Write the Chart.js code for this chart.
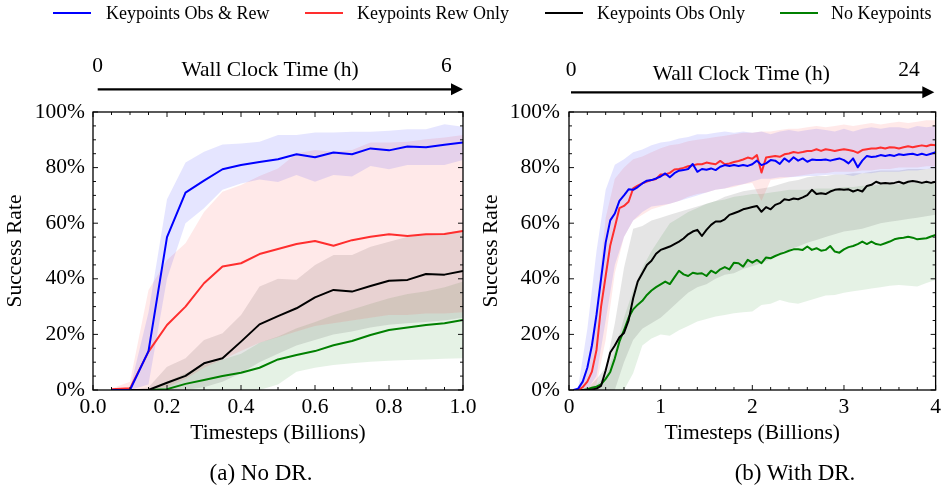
<!DOCTYPE html>
<html>
<head>
<meta charset="utf-8">
<script src="https://cdn.jsdelivr.net/npm/chart.js@4.4.1/dist/chart.umd.min.js"></script>
<style>
html,body{margin:0;padding:0;background:#fff;}
#wrap{position:relative;width:945px;height:487px;overflow:hidden;font-family:'Liberation Serif','Times New Roman',serif;color:#000;background:#fff;}
canvas{position:absolute;left:0;top:0;}
.lline{position:absolute;top:12.3px;width:38px;height:2px;}
.ltext{position:absolute;top:4px;font-size:18px;line-height:18px;white-space:nowrap;}
.cap{position:absolute;top:461px;font-size:23px;line-height:23px;white-space:nowrap;transform:translateX(-50%);}
</style>
</head>
<body>
<div id="wrap">
  <canvas id="cA" width="945" height="487"></canvas>
  <canvas id="cB" width="945" height="487"></canvas>
  <div class="lline" style="left:53px;background:#0000ff"></div><div class="ltext" style="left:106px">Keypoints Obs &amp; Rew</div>
  <div class="lline" style="left:305px;background:#ff2e2e"></div><div class="ltext" style="left:357px">Keypoints Rew Only</div>
  <div class="lline" style="left:545px;background:#000000"></div><div class="ltext" style="left:597px">Keypoints Obs Only</div>
  <div class="lline" style="left:780px;background:#008000"></div><div class="ltext" style="left:831px">No Keypoints</div>
  <div class="cap" style="left:261px">(a) No DR.</div>
  <div class="cap" style="left:795px">(b) With DR.</div>
</div>
<script>
// ---------- Panel (a): No DR ----------
const xA = [0.05,0.10,0.15,0.20,0.25,0.30,0.35,0.40,0.45,0.50,0.55,0.60,0.65,0.70,0.75,0.80,0.85,0.90,0.95,1.00];
const blueA  = [0,0,14,55,71,75.3,79.4,80.9,82,83,84.8,83.7,85.4,84.8,86.9,86.2,87.6,87.3,88.2,89];
const redA   = [0.3,0.6,13.8,23.4,30,38.4,44.4,45.6,48.9,50.7,52.5,53.6,51.9,53.9,55.1,56,55.4,56,56.1,57.2];
const blackA = [0,0,0,2.6,5.1,9.6,11.4,17.4,23.6,26.6,29.4,33.3,36,35.4,37.4,39.3,39.6,41.7,41.5,42.8];
const greenA = [0,0,0,0.3,2.2,3.6,5,6.2,8,11,12.6,14,16.1,17.6,19.8,21.6,22.5,23.4,24,25.2];
const blueUpA  = [0,0.5,28,68.6,81.8,85.7,88.3,88.7,89.3,91.7,91.7,92.6,92.6,92.9,92.9,93.3,93.8,93.8,95.6,94.7];
const blueLoA  = [0,0,2,40,60,65.4,72,74.3,75.7,74.8,77.3,74.9,77.3,76.8,80.6,79.4,80.9,80.9,80.9,82.7];
const redUpA   = [0.5,3,36,46.8,52.8,64,71.3,73.7,77,79.7,85.1,86.3,85.7,86.3,89,89,89.3,90.2,90.8,91.7];
const redLoA   = [0,0,0,1,4,8,11,14,17,19,21,23,24,25,26,27,27,27.5,27.5,28];
const blackUpA = [0,0,1,8.4,11.4,18,20.4,27,37.2,40,39.7,45,48.6,48.6,51.5,53.3,55.1,55.8,56.4,57.6];
const blackLoA = [0,0,0,0,0,1,3,6,10,13,16,18,20,21,22.5,23.5,24,24.5,25,26];
const greenUpA = [0,0,0.5,3,6,9,11,13,17,19.2,22.2,24.5,27,29,31,33,34.5,35.5,37,39];
const greenLoA = [0,0,0,0,0,0,0,0,0,2,6.6,8,9,9.6,10.2,10.5,10.8,11,11.2,11.4];

// ---------- Panel (b): With DR ----------
const xB = [
 0.05,0.10,0.15,0.20,0.25,0.30,0.35,0.40,0.45,0.50,
 0.55,0.60,0.65,0.70,0.75,0.80,0.85,0.90,0.95,1.00,
 1.05,1.10,1.15,1.20,1.25,1.30,1.35,1.40,1.45,1.50,
 1.55,1.60,1.65,1.70,1.75,1.80,1.85,1.90,1.95,2.00,
 2.05,2.10,2.15,2.20,2.25,2.30,2.35,2.40,2.45,2.50,
 2.55,2.60,2.65,2.70,2.75,2.80,2.85,2.90,2.95,3.00,
 3.05,3.10,3.15,3.20,3.25,3.30,3.35,3.40,3.45,3.50,
 3.55,3.60,3.65,3.70,3.75,3.80,3.85,3.90,3.95,4.00];
const blueB = [
 0,0.5,3,8,16,27,40,53,61,63.5,
 68,70,72.2,72,73,74.3,75.3,75.5,76.1,76.8,
 77.9,76.5,78,78.9,79.1,79.5,81.3,78.5,79.5,79.2,
 79.7,79.1,80.3,80.9,80.6,80.9,80.6,80.9,80.6,81.2,
 82.5,80.9,81.5,82.7,82.5,81.3,83.3,82.1,83.7,82.5,
 83.3,82.1,82.9,82.7,82.7,82.9,82.5,82.9,83.3,82.7,
 81.5,83.3,80.1,82.5,84.2,83.8,84.0,84.5,84.2,84.5,
 84.2,84.8,84.5,84.8,85.0,84.5,85.0,84.5,85.0,85.5];
const redB = [
 0,0,1,3,6.6,14.4,30,41,52,58.5,
 65.4,66.2,67.7,72.5,73.5,74.3,75,75.5,75.9,77.5,
 77.5,78.1,79.3,79.5,79.9,80.5,80.8,81.2,81.2,81.8,
 81.5,81.2,82.4,81.2,81.5,82,82.4,82.9,83.6,83.2,
 84.5,78.2,83.6,83.9,84.2,83.9,84.8,85.1,85.6,85.3,
 85.6,86,86,86.6,86,86.6,86.3,86,86.3,86.6,
 86.3,86,85.3,86.3,86.6,86.9,86.9,87.2,86.9,87.3,
 87.2,86.9,87.3,87.7,87.3,87.7,88,87.7,88.2,88];
const blackB = [
 0,0,0,0,0.2,0.5,1.5,7,13.5,16,
 19,20.5,25,33,39,42,45,46.5,49,50.4,
 51,51.6,52.5,53.4,54.5,56,57,57.6,55.4,57.6,
 59.4,60.6,60.6,61.4,63,63.6,64.2,65,65.4,65.8,
 66.2,64.1,65.8,65,66.6,67.2,68.6,68.3,68.9,68.6,
 69.3,70.1,72,70.5,70.8,70.5,71.4,72,72.2,72,
 72.2,71.4,72,71.4,73.4,73.8,74.9,74.3,74.5,74.3,
 74.5,74.9,74.3,74.9,75.2,74.9,74.5,74.9,74.5,74.9];
const greenB = [
 0,0,0,0.3,0.8,1.2,2,4,6.5,11.4,
 17.4,21.5,26,29,30.7,32.1,34.2,35.8,37,38,
 39,38.1,40.5,42.9,41.6,41,42.2,41.8,42,41,
 42.9,42,43.4,44.2,43.4,45.8,45.6,44.4,46.8,45.8,
 46.8,45.6,47.7,47.4,48.2,48.9,49.4,50.1,50.6,50.6,
 50.4,51.6,50.4,51,50.1,50.4,51.8,49.8,49.4,50.6,
 51.4,51.8,52.5,53.4,52.5,53.4,52.5,52.2,52.8,53.4,
 54.2,54.6,54.8,55.1,54.8,54.2,54.4,54.6,55.2,55.8];
const xBandB = [
 0.1,0.2,0.3,0.4,0.5,0.6,0.7,0.8,0.9,1.0,
 1.1,1.2,1.3,1.4,1.5,1.6,1.7,1.8,1.9,2.0,
 2.1,2.2,2.3,2.4,2.5,2.6,2.7,2.8,2.9,3.0,
 3.1,3.2,3.3,3.4,3.5,3.6,3.7,3.8,3.9,4.0];
const blueUpB = [1,22,50,72,81,83,85.5,86.5,88,89, 89.5,90.5,91,92,92,92.5,93,92.5,93,92.5, 93,92,93,93.5,93,93.5,94,93.5,93,94, 93,94,94.5,94,94.5,94.5,94,95,94.5,95];
const blueLoB = [0,0,5,25,45,55,61,64,66,66.5, 67,68,69,70,71,72,72.5,73.5,74,75, 76,76,76.5,76.5,76.7,77,77,77.3,77.5,77.5, 77,78,78,78.5,78.5,78.5,79,79,79.5,79.7];
const redUpB = [0.5,8,30,62,76,80,83,84,85.5,87, 88,88.5,89.5,90,90.5,91,91.5,92,92.5,92.5, 93,93,93.5,94,94,94.5,95,94.5,95,95.5, 95,95.5,96,95.5,96,96.5,96,96.5,97,97];
const redLoB = [0,0,2,18,42,55,61,63,65,66, 67,68,69.5,70.5,71,72,72.5,73,74,74.5, 68,75.5,76,76.5,77,77.5,78,78,78.5,78.5, 78.5,79,79,79.5,79.5,80,80,80,80.5,80.5];
const blackUpB = [0,0.5,4,8,24,44,58,59,61,62, 63,64,65,66,67,68,69.5,70.5,71.5,72, 72.5,73,74,75,75.5,76.5,77,77,77.5,77.5, 78,78,78.5,79,79,79,79.5,79.5,79.5,80];
const blackLoB = [0,0,0,0,0,10,18,22,24,26, 29,32,35,37,38,40,41.5,42,43.5,44.5, 45.6,47,49,50.5,51.6,53,54,55,56,57, 57.5,58,59,60,60.5,61,61.5,62,62.5,63];
const greenUpB = [0,0.5,2,5,14,26,36,44,50,55, 60,62,64,65.5,67,68,68.5,69.5,70,70.5, 70.5,71,71.5,72,72,72,72.5,72.5,72.5,73, 73,73.5,73.5,74,74,74,74.5,74.5,74.5,74.5];
const greenLoB = [0,0,0,0,0,0,6,16,18.5,20, 19.5,21.5,23,24.6,25.5,26.4,27,27.6,28,28.2, 30.6,31,32.4,31.5,31,32,33,34,34.2,35, 35.5,36,36.5,37,37.5,37.8,37.5,37.2,38.5,39.6];

const seriesNames = ['Keypoints Obs & Rew','Keypoints Rew Only','Keypoints Obs Only','No Keypoints'];
const yTitle = 'Success Rate';
const xTitle = 'Timesteps (Billions)';
const wallTitle = 'Wall Clock Time (h)';
const wallEndsA = ['0','6'];
const wallEndsB = ['0','24'];

const COLORS = ['#0000ff','#ff2e2e','#000000','#008000'];
const BANDS = ['rgba(0,0,255,0.10)','rgba(255,40,40,0.10)','rgba(0,0,0,0.10)','rgba(0,128,0,0.10)'];
const FONT = "'Liberation Serif','Times New Roman',serif";
Chart.defaults.font.family = FONT;
Chart.defaults.color = '#000';

function pts(xs, ys){ return xs.map((x,i)=>({x:x, y:ys[i]})); }
function lineDs(i, xs, ys){
  return {label: seriesNames[i], data: pts(xs,ys), borderColor: COLORS[i], borderWidth: 2,
          pointRadius: 0, fill: false, tension: 0, order: 0, borderJoinStyle: 'round'};
}
function bandDs(i, xs, lo, hi){
  return [
    {label: 'lo'+i, data: pts(xs,lo), borderColor:'rgba(0,0,0,0)', borderWidth: 0, pointRadius: 0, fill: false, order: 1},
    {label: 'hi'+i, data: pts(xs,hi), borderColor:'rgba(0,0,0,0)', borderWidth: 0, pointRadius: 0, fill: '-1', backgroundColor: BANDS[i], order: 1}
  ];
}

const framePlugin = {
  id: 'frame',
  afterDatasetsDraw(chart, args, o){
    const {ctx, chartArea: a} = chart;
    const x = chart.scales.x, y = chart.scales.y;
    ctx.save();
    ctx.strokeStyle = '#111';
    ctx.lineWidth = 1;
    ctx.beginPath();
    const nx = Math.round((x.max - x.min)/o.minorX);
    for (let i=0;i<=nx;i++){
      const v = x.min + i*o.minorX;
      const r = v/o.majorX, major = Math.abs(r-Math.round(r))<1e-6;
      const len = major?5:3, px = x.getPixelForValue(v);
      ctx.moveTo(px, a.bottom); ctx.lineTo(px, a.bottom-len);
      ctx.moveTo(px, a.top); ctx.lineTo(px, a.top+len);
    }
    const ny = Math.round((y.max - y.min)/o.minorY);
    for (let i=0;i<=ny;i++){
      const v = y.min + i*o.minorY;
      const r = v/o.majorY, major = Math.abs(r-Math.round(r))<1e-6;
      const len = major?5:3, py = y.getPixelForValue(v);
      ctx.moveTo(a.left, py); ctx.lineTo(a.left+len, py);
      ctx.moveTo(a.right, py); ctx.lineTo(a.right-len, py);
    }
    ctx.stroke();
    ctx.lineWidth = 1.3;
    ctx.strokeStyle = '#000';
    ctx.strokeRect(a.left, a.top, a.right-a.left, a.bottom-a.top);
    ctx.restore();
  }
};

const wallPlugin = {
  id: 'wall',
  afterDraw(chart, args, o){
    const {ctx, chartArea: a} = chart;
    const x0 = a.left + o.startInset, x1 = a.right - o.tipInset;
    const ya = a.top - o.arrowGap;
    ctx.save();
    ctx.strokeStyle = '#000'; ctx.fillStyle = '#000';
    ctx.lineWidth = 2.2;
    ctx.beginPath(); ctx.moveTo(x0, ya); ctx.lineTo(x1-8, ya); ctx.stroke();
    ctx.beginPath(); ctx.moveTo(x1, ya); ctx.lineTo(x1-12, ya-6); ctx.lineTo(x1-12, ya+6); ctx.closePath(); ctx.fill();
    ctx.font = '21.5px ' + FONT;
    ctx.textBaseline = 'alphabetic';
    ctx.textAlign = 'center';
    ctx.fillText(o.ends[0], x0, a.top - o.numGap);
    ctx.textAlign = 'right';
    ctx.fillText(o.ends[1], a.right - o.endInset, a.top - o.numGap);
    ctx.textAlign = 'center';
    ctx.fillText(wallTitle, (a.left+a.right)/2 + o.titleShift, a.top - o.titleGap);
    ctx.restore();
  }
};

function makeChart(id, cfg){
  const datasets = [];
  for (let i=0;i<4;i++) datasets.push(lineDs(i, cfg.xs, cfg.lines[i]));
  for (let i=0;i<4;i++) datasets.push(...bandDs(i, cfg.bx, cfg.bands[i][0], cfg.bands[i][1]));
  return new Chart(document.getElementById(id), {
    type: 'line',
    data: {datasets},
    plugins: [framePlugin, wallPlugin],
    options: {
      responsive: false, animation: false, devicePixelRatio: 1,
      layout: {padding: cfg.padding},
      plugins: {
        legend: {display: false}, tooltip: {enabled: false},
        frame: cfg.frame, wall: cfg.wall
      },
      scales: {
        x: {
          type: 'linear', min: cfg.xmin, max: cfg.xmax,
          grid: {display: false, drawTicks: false}, border: {display: false},
          ticks: {stepSize: cfg.xstep, padding: 4, font: {size: 21.5}, color: '#000',
                  maxRotation: 0, callback: cfg.xfmt},
          title: {display: true, text: xTitle, font: {size: 21.5}, color: '#000', padding: {top: 0, bottom: 41}},
          afterFit(s){ s.height = 97; }
        },
        y: {
          type: 'linear', min: 0, max: 100,
          grid: {display: false, drawTicks: false}, border: {display: false},
          ticks: {stepSize: 20, padding: cfg.ypad, font: {size: 21.5}, color: '#000', callback: v => v + '%'},
          title: {display: true, text: yTitle, font: {size: 21.5}, color: '#000', padding: {top: cfg.ytitlePad, bottom: 0}},
          afterFit(s){ s.width = cfg.ywidth; }
        }
      }
    }
  });
}

makeChart('cA', {
  xs: xA, lines: [blueA, redA, blackA, greenA], bx: xA,
  bands: [[blueLoA, blueUpA],[redLoA, redUpA],[blackLoA, blackUpA],[greenLoA, greenUpA]],
  padding: {left: 0, top: 112, right: 482, bottom: 0},
  xmin: 0, xmax: 1, xstep: 0.2, xfmt: v => Number(v).toFixed(1),
  ypad: 8, ywidth: 93, ytitlePad: 2.4,
  frame: {minorX: 0.05, majorX: 0.2, minorY: 5, majorY: 20},
  wall: {ends: wallEndsA, startInset: 4.7, tipInset: 0, arrowGap: 22.7, numGap: 40, titleGap: 36, titleShift: -8, endInset: 11.3}
});

makeChart('cB', {
  xs: xB, lines: [blueB, redB, blackB, greenB], bx: xBandB,
  bands: [[blueLoB, blueUpB],[redLoB, redUpB],[blackLoB, blackUpB],[greenLoB, greenUpB]],
  padding: {left: 470, top: 112, right: 7, bottom: 0},
  xmin: 0, xmax: 4, xstep: 1, xfmt: v => String(v),
  ypad: 9, ywidth: 99, ytitlePad: 8.1,
  frame: {minorX: 0.2, majorX: 1, minorY: 5, majorY: 20},
  wall: {ends: wallEndsB, startInset: 2, tipInset: 1.3, arrowGap: 19.7, numGap: 36, titleGap: 32, titleShift: -11, endInset: 16}
});
</script>
</body>
</html>
